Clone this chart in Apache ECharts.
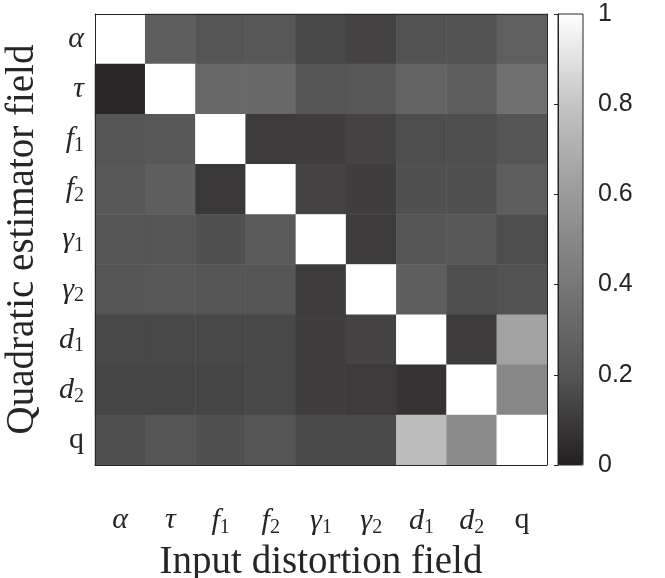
<!DOCTYPE html>
<html>
<head>
<meta charset="utf-8">
<script src="https://cdn.jsdelivr.net/npm/echarts@6/dist/echarts.min.js"></script>
<style>
  html, body { margin: 0; padding: 0; background: #fff; }
  #chart { width: 665px; height: 578px; }
</style>
</head>
<body>
<div id="chart"></div>
<script>
// field names, same order on both axes
var fields = ['α', 'τ', 'f1', 'f2', 'γ1', 'γ2', 'd1', 'd2', 'q'];

// one row per quadratic estimator field (top to bottom), columns = input distortion field
var rowAlpha = [1.00, 0.25, 0.20, 0.21, 0.155, 0.13, 0.19, 0.19, 0.26];
var rowTau   = [0.03, 1.00, 0.31, 0.31, 0.20, 0.21, 0.28, 0.25, 0.36];
var rowF1    = [0.20, 0.21, 1.00, 0.10, 0.11, 0.13, 0.17, 0.17, 0.20];
var rowF2    = [0.22, 0.25, 0.09, 1.00, 0.13, 0.11, 0.18, 0.18, 0.25];
var rowG1    = [0.20, 0.20, 0.18, 0.23, 1.00, 0.10, 0.20, 0.22, 0.17];
var rowG2    = [0.20, 0.21, 0.20, 0.20, 0.10, 1.00, 0.25, 0.17, 0.19];
var rowD1    = [0.15, 0.15, 0.15, 0.15, 0.11, 0.13, 1.00, 0.10, 0.64];
var rowD2    = [0.14, 0.14, 0.14, 0.15, 0.11, 0.10, 0.07, 1.00, 0.49];
var rowQ     = [0.18, 0.20, 0.18, 0.20, 0.16, 0.16, 0.76, 0.52, 1.00];

var rows = [rowAlpha, rowTau, rowF1, rowF2, rowG1, rowG2, rowD1, rowD2, rowQ];

// grey ramp as seen on the printed colour bar (0 -> 1)
var greyRamp = ['#231f20', '#555555', '#777777', '#9a9a9a', '#c4c4c4', '#ffffff'];

var cells = [];
rows.forEach(function (r, i) {
  r.forEach(function (v, j) {
    cells.push([j, i, v]);
  });
});

var ink = '#262626';

function fieldLabel(name) {
  if (name === 'q') return '{r|q}';
  if (name.length === 2) return '{m|' + name[0] + '}{s|' + name[1] + '}';
  return '{m|' + name + '}';
}

var richLabel = {
  m: { fontFamily: 'Liberation Serif', fontStyle: 'italic', fontSize: 30, color: ink },
  r: { fontFamily: 'Liberation Serif', fontSize: 30, color: ink },
  s: { fontFamily: 'Liberation Serif', fontSize: 20, color: ink, padding: [13, 0, 0, 0] }
};

var chart = echarts.init(document.getElementById('chart'), null, { renderer: 'canvas' });

var option = {
  backgroundColor: '#fff',
  animation: false,
  grid: [
    { left: 95, top: 14, width: 452, height: 451, show: false, outerBoundsMode: 'none', containLabel: false },
    { left: 558, top: 14, width: 25, height: 451, show: true, z: 10, outerBoundsMode: 'none',
      containLabel: false, borderColor: ink, borderWidth: 1, backgroundColor: 'transparent' }
  ],
  xAxis: [
    {
      type: 'category', data: fields, gridIndex: 0, position: 'bottom',
      name: 'Input distortion field', nameLocation: 'middle', nameGap: 75,
      nameTextStyle: { fontFamily: 'Liberation Serif', fontSize: 39, color: ink },
      axisLine: { lineStyle: { color: ink, width: 1 } },
      axisTick: { inside: true, alignWithLabel: true, length: 5, lineStyle: { color: ink } },
      axisLabel: { interval: 0, margin: 40, formatter: fieldLabel, rich: richLabel },
      splitLine: { show: false }, z: 5
    },
    {
      type: 'category', data: fields, gridIndex: 0, position: 'top',
      axisLine: { lineStyle: { color: ink, width: 1 } },
      axisTick: { inside: true, alignWithLabel: true, length: 5, lineStyle: { color: ink } },
      axisLabel: { show: false }, splitLine: { show: false }, z: 5
    },
    { type: 'value', gridIndex: 1, show: false, min: 0, max: 1 }
  ],
  yAxis: [
    {
      type: 'category', data: fields, gridIndex: 0, inverse: true, position: 'left',
      name: 'Quadratic estimator field', nameLocation: 'middle', nameGap: 53, nameRotate: 90,
      nameTextStyle: { fontFamily: 'Liberation Serif', fontSize: 39, color: ink },
      axisLine: { lineStyle: { color: ink, width: 1 } },
      axisTick: { inside: true, alignWithLabel: true, length: 5, lineStyle: { color: ink } },
      axisLabel: { interval: 0, margin: 11, formatter: fieldLabel, rich: richLabel },
      splitLine: { show: false }, z: 5
    },
    {
      type: 'category', data: fields, gridIndex: 0, inverse: true, position: 'right',
      axisLine: { lineStyle: { color: ink, width: 1 } },
      axisTick: { inside: true, alignWithLabel: true, length: 5, lineStyle: { color: ink } },
      axisLabel: { show: false }, splitLine: { show: false }, z: 5
    },
    {
      type: 'value', gridIndex: 1, position: 'right', min: 0, max: 1, interval: 0.2,
      axisLine: { show: true, lineStyle: { color: ink } },
      axisTick: { show: true, inside: true, length: 4, lineStyle: { color: ink } },
      axisLabel: {
        margin: 15, fontFamily: 'Liberation Sans', fontSize: 25, color: ink,
        formatter: function (v) {
          return (v === 0 || v === 1) ? String(v) : v.toFixed(1);
        }
      },
      splitLine: { show: false }, z: 12
    }
  ],
  visualMap: {
    type: 'continuous', min: 0, max: 1, seriesIndex: 0,
    calculable: false, realtime: false,
    left: 558, top: 14, itemWidth: 25, itemHeight: 451, padding: 0,
    inRange: { color: greyRamp },
    textStyle: { color: 'transparent' }
  },
  series: [
    {
      type: 'heatmap', xAxisIndex: 0, yAxisIndex: 0, data: cells,
      itemStyle: { borderWidth: 0 },
      emphasis: { disabled: true }
    },
    { type: 'scatter', xAxisIndex: 2, yAxisIndex: 2, data: [], silent: true }
  ]
};

chart.setOption(option);
</script>
</body>
</html>
